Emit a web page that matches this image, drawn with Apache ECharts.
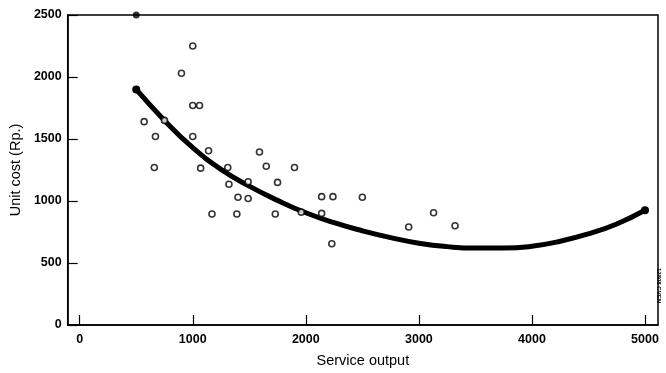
<!DOCTYPE html>
<html>
<head>
<meta charset="utf-8">
<script src="https://cdn.jsdelivr.net/npm/echarts@6/dist/echarts.min.js"></script>
<style>
  html, body { margin: 0; padding: 0; background: #fff; }
  #chart { width: 666px; height: 373px; }
</style>
</head>
<body>
<div id="chart"></div>
<script>
// observed points (service output, unit cost)
const outputX = [1000, 900, 1000, 1060, 570, 750, 670, 1000, 660, 1070, 1140, 1310, 1320, 1170,
  1590, 1650, 1900, 1490, 1750, 1400, 1490, 2140, 2240, 1390, 1730, 2140, 1960, 2230,
  2500, 3130, 2910, 3320];
const unitCost = [2250, 2030, 1770, 1770, 1640, 1650, 1520, 1520, 1270, 1265, 1405, 1270, 1135, 895,
  1395, 1280, 1270, 1155, 1150, 1030, 1020, 1035, 1035, 895, 895, 900, 910, 655,
  1030, 905, 790, 800];

// outlier plotted as a filled dot at the top edge
const outlierX = [500];
const outlierY = [2500];

// fitted curve
const curveX = [500, 750, 1000, 1250, 1500, 1750, 2000, 2250, 2500, 2750, 3000, 3250, 3500, 3750, 4000, 4250, 4500, 4750, 5000];
const curveY = [1900, 1650, 1430, 1255, 1120, 1005, 905, 825, 760, 705, 660, 632, 620, 620, 635, 675, 735, 815, 925];

const xTicks = [0, 1000, 2000, 3000, 4000, 5000];

const chart = echarts.init(document.getElementById("chart"));

const labelFont = {
  color: "#000",
  fontFamily: "Liberation Sans, Arial, sans-serif",
  fontWeight: "bold",
  fontSize: 12.5,
  formatter: v => String(v)
};

const curveData = curveX.map((x, i) => {
  const isEnd = i === 0 || i === curveX.length - 1;
  return { value: [x, curveY[i]], symbol: isEnd ? "circle" : "none", symbolSize: isEnd ? 8 : 0 };
});

chart.setOption({
  animation: false,
  backgroundColor: "#fff",
  grid: {
    left: 66,
    right: 8,
    top: 15,
    bottom: 43,
    show: true,
    borderColor: "#000",
    borderWidth: 1.5
  },
  xAxis: {
    type: "value",
    min: -106,
    max: 5115,
    name: "Service output",
    nameLocation: "middle",
    nameGap: 28,
    nameTextStyle: {
      color: "#000",
      fontFamily: "Liberation Sans, Arial, sans-serif",
      fontSize: 14.5
    },
    splitLine: { show: false },
    axisLine: { show: true, onZero: false, lineStyle: { color: "#000", width: 1.5 } },
    axisTick: { show: true, inside: true, length: 10, customValues: xTicks, lineStyle: { color: "#000", width: 1.2 } },
    axisLabel: Object.assign({ margin: 8, customValues: xTicks }, labelFont)
  },
  yAxis: {
    type: "value",
    min: 0,
    max: 2500,
    interval: 500,
    name: "Unit cost (Rp.)",
    nameLocation: "middle",
    nameGap: 39,
    nameTextStyle: {
      color: "#000",
      fontFamily: "Liberation Sans, Arial, sans-serif",
      fontSize: 14.5
    },
    splitLine: { show: false },
    axisLine: { show: true, onZero: false, lineStyle: { color: "#000", width: 1.5 } },
    axisTick: { show: true, inside: true, length: 10, lineStyle: { color: "#000", width: 1.2 } },
    axisLabel: Object.assign({ margin: 6 }, labelFont)
  },
  graphic: [
    {
      type: "text",
      left: 656,
      top: 268,
      rotation: -Math.PI / 2,
      style: {
        text: "12808 CVEN",
        fill: "#000",
        font: "bold 6px Liberation Sans, Arial, sans-serif"
      }
    }
  ],
  series: [
    {
      name: "fit",
      type: "line",
      smooth: 0.5,
      showSymbol: true,
      data: curveData,
      lineStyle: { color: "#000", width: 5, cap: "round" },
      itemStyle: { color: "#000" },
      z: 2
    },
    {
      name: "observed",
      type: "scatter",
      data: outputX.map((x, i) => [x, unitCost[i]]),
      symbol: "circle",
      symbolSize: 6,
      itemStyle: { color: "#fff", borderColor: "#000", borderWidth: 1.6 },
      z: 3
    },
    {
      name: "outlier",
      type: "scatter",
      data: outlierX.map((x, i) => [x, outlierY[i]]),
      symbol: "circle",
      symbolSize: 7,
      itemStyle: { color: "#000" },
      z: 4
    }
  ]
});
</script>
</body>
</html>
